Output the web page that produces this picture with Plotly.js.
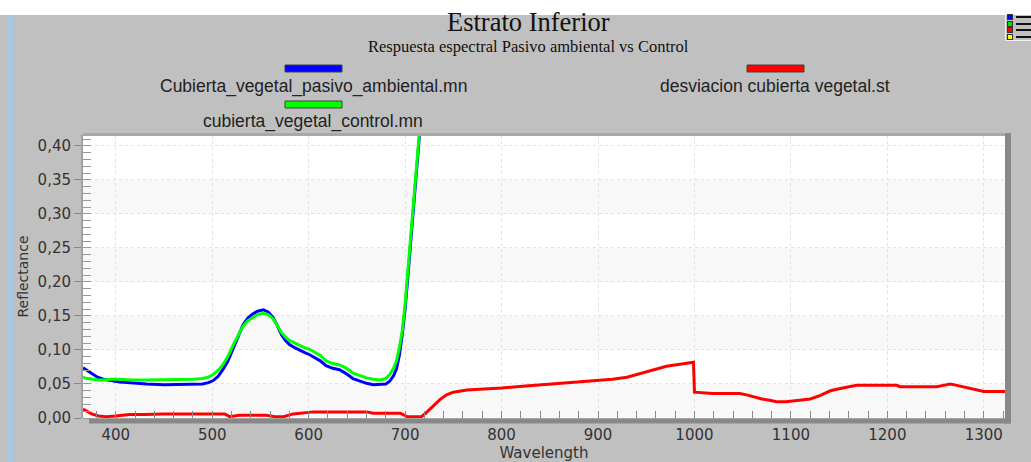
<!DOCTYPE html>
<html>
<head>
<meta charset="utf-8">
<script src="https://cdn.plot.ly/plotly-3.0.1.min.js"></script>
<style>
  html, body { margin: 0; padding: 0; background: #ffffff; width: 1031px; height: 462px; overflow: hidden; }
  #wrap { position: absolute; left: 0; top: 15px; width: 1031px; height: 447px; background: #c0c0c0; }
  #strip { position: absolute; left: 8px; top: 15px; width: 6px; height: 447px; background: #a9c7e8; }
  #chart { position: absolute; left: 0; top: 0; width: 1031px; height: 462px; }
  .tb { position: absolute; }
</style>
</head>
<body>
<div id="wrap"></div>
<div id="strip"></div>
<div id="chart"></div>
<div id="toolbar"></div>
<script>
// ---------------- data ----------------
var wavelength = [366, 370, 376, 381, 387, 395, 404, 415, 432, 450, 466, 480, 490, 496, 501, 506, 511, 516, 522, 527,
  532, 537, 542, 547, 553, 558, 563, 567, 572, 576, 580, 586, 591, 596, 601, 605, 612, 618, 625, 632,
  638, 646, 653, 660, 667, 674, 680, 684, 688, 691, 694, 697, 700, 703, 706, 709, 712, 715, 720, 730];

var pasivoAmbiental = [0.074, 0.070, 0.064, 0.060, 0.057, 0.055, 0.053, 0.052, 0.050, 0.049, 0.049, 0.049, 0.050, 0.052, 0.055, 0.061, 0.071, 0.083, 0.103, 0.121,
  0.137, 0.147, 0.153, 0.157, 0.159, 0.156, 0.148, 0.137, 0.122, 0.114, 0.108, 0.103, 0.099, 0.096, 0.093, 0.090, 0.084, 0.077, 0.073, 0.071,
  0.066, 0.058, 0.054, 0.051, 0.049, 0.049, 0.050, 0.054, 0.062, 0.072, 0.092, 0.122, 0.160, 0.210, 0.265, 0.315, 0.368, 0.418, 0.480, 0.560];

var control = [0.060, 0.058, 0.057, 0.056, 0.056, 0.057, 0.057, 0.056, 0.056, 0.056, 0.056, 0.057, 0.058, 0.060, 0.064, 0.070, 0.078, 0.090, 0.108, 0.122,
  0.135, 0.143, 0.148, 0.152, 0.154, 0.152, 0.146, 0.137, 0.125, 0.119, 0.114, 0.110, 0.106, 0.103, 0.101, 0.098, 0.092, 0.084, 0.080, 0.078,
  0.074, 0.066, 0.062, 0.059, 0.057, 0.056, 0.058, 0.064, 0.073, 0.084, 0.103, 0.128, 0.168, 0.218, 0.272, 0.322, 0.375, 0.424, 0.490, 0.570];

var wavelengthDev = [366, 370, 375, 382, 390, 400, 414, 430, 449, 470, 490, 501, 513, 518, 528, 545, 556, 565, 574, 584,
  595, 605, 620, 640, 660, 667, 680, 695, 702, 710, 717, 722, 729, 736, 743, 750, 764, 780, 800, 825,
  850, 875, 900, 915, 930, 940, 950, 960, 971, 985, 999, 1000, 1010, 1019, 1035, 1047, 1054, 1061, 1070, 1078,
  1085, 1095, 1109, 1120, 1130, 1141, 1150, 1160, 1168, 1180, 1195, 1210, 1213, 1230, 1251, 1258, 1265, 1272, 1279, 1290,
  1300, 1310, 1322];

var desviacion = [0.013, 0.010, 0.006, 0.003, 0.002, 0.003, 0.005, 0.005, 0.006, 0.006, 0.006, 0.006, 0.006, 0.002, 0.004, 0.004, 0.004, 0.002, 0.002, 0.006,
  0.007, 0.009, 0.009, 0.009, 0.009, 0.007, 0.007, 0.007, 0.002, 0.002, 0.002, 0.008, 0.018, 0.027, 0.034, 0.038, 0.041, 0.042, 0.044, 0.047,
  0.050, 0.052, 0.055, 0.057, 0.060, 0.064, 0.068, 0.072, 0.076, 0.079, 0.082, 0.038, 0.037, 0.036, 0.036, 0.036, 0.034, 0.031, 0.028, 0.026,
  0.024, 0.024, 0.026, 0.028, 0.033, 0.040, 0.043, 0.046, 0.048, 0.048, 0.048, 0.048, 0.046, 0.046, 0.046, 0.048, 0.050, 0.048, 0.046, 0.042,
  0.039, 0.039, 0.039];

var seriesNames = ["Cubierta_vegetal_pasivo_ambiental.mn", "cubierta_vegetal_control.mn", "desviacion cubierta vegetal.st"];
var seriesColors = ["#0000ff", "#00ff00", "#ff0000"];
var bandStarts = [0.00, 0.10, 0.20, 0.30];
var bandWidth = 0.05;
var chartTitle = "Estrato Inferior";
var chartSubtitle = "Respuesta espectral Pasivo ambiental vs Control";

// ---------------- geometry helpers (image pixel -> paper) ----------------
var L = 83, R = 1005, T = 135, B = 418;
function px(x) { return (x - L) / (R - L); }
function py(y) { return (B - y) / (B - T); }

// legend layout: [centerX, barTopY, textY]
var legendPos = [[313, 65, 86], [313, 101, 122], [775, 65, 86]];

var traces = [
  { x: wavelengthDev, y: desviacion, name: seriesNames[2], mode: "lines", line: { color: seriesColors[2], width: 3 } },
  { x: wavelength, y: pasivoAmbiental, name: seriesNames[0], mode: "lines", line: { color: seriesColors[0], width: 3 } },
  { x: wavelength, y: control, name: seriesNames[1], mode: "lines", line: { color: seriesColors[1], width: 3 } }
];

var shapes = [];
bandStarts.forEach(function (b) {
  shapes.push({ type: "rect", xref: "paper", yref: "y", x0: 0, x1: 1, y0: b, y1: b + bandWidth,
    fillcolor: "#f8f8f8", line: { width: 0 }, layer: "below" });
});
// borders
shapes.push({ type: "line", xref: "paper", yref: "paper", x0: px(83), x1: px(1008), y0: py(134.5), y1: py(134.5),
  line: { color: "#a8a8a8", width: 3 } });
shapes.push({ type: "rect", xref: "paper", yref: "paper", x0: px(89), x1: px(1011), y0: py(418.5), y1: py(423.5),
  fillcolor: "#888888", line: { width: 0 } });
shapes.push({ type: "rect", xref: "paper", yref: "paper", x0: px(1005), x1: px(1011), y0: py(133), y1: py(423.5),
  fillcolor: "#888888", line: { width: 0 } });

var annotations = [
  { text: chartTitle, xref: "paper", yref: "paper", x: px(528), y: py(22), showarrow: false,
    xanchor: "center", yanchor: "middle", font: { family: "Liberation Serif, Times New Roman, serif", size: 26.5, color: "#111" } },
  { text: chartSubtitle, xref: "paper", yref: "paper", x: px(528), y: py(46), showarrow: false,
    xanchor: "center", yanchor: "middle", font: { family: "Liberation Serif, Times New Roman, serif", size: 16.5, color: "#111" } }
];

[0, 1, 2].forEach(function (i) {
  var p = legendPos[i];
  shapes.push({ type: "rect", xref: "paper", yref: "paper", x0: px(p[0] - 28), x1: px(p[0] + 29), y0: py(p[1] + 7), y1: py(p[1]),
    fillcolor: seriesColors[i], line: { color: "#404040", width: 1 } });
  annotations.push({ text: seriesNames[i], xref: "paper", yref: "paper", x: px(p[0]), y: py(p[2]), showarrow: false,
    xanchor: "center", yanchor: "middle", font: { family: "Liberation Sans, Arial, sans-serif", size: 17.5, color: "#222" } });
});

var layout = {
  width: 1031, height: 462,
  margin: { l: 83, r: 26, t: 135, b: 44, pad: 0 },
  paper_bgcolor: "rgba(0,0,0,0)",
  plot_bgcolor: "#ffffff",
  showlegend: false,
  separators: ",.",
  font: { family: "DejaVu Sans, sans-serif", size: 15, color: "#333" },
  xaxis: {
    range: [366, 1322], tick0: 0, dtick: 100,
    ticks: "inside", ticklen: 7, tickcolor: "#888", tickwidth: 1,
    minor: { dtick: 20, ticks: "inside", ticklen: 7, tickcolor: "#888", showgrid: false },
    showgrid: true, gridcolor: "#e2e2e2", griddash: "dot", gridwidth: 1,
    showline: false, zeroline: false,
    ticklabelstandoff: 6,
    tickfont: { family: "DejaVu Sans, sans-serif", size: 15, color: "#333" },
    title: { text: "Wavelength", standoff: 2, font: { family: "DejaVu Sans, sans-serif", size: 15, color: "#333" } },
    automargin: false
  },
  yaxis: {
    range: [0, 0.416], tick0: 0, dtick: 0.05, tickformat: ".2f",
    ticks: "outside", ticklen: 7, tickcolor: "#888", tickwidth: 1,
    minor: { dtick: 0.01, ticks: "inside", ticklen: 8, tickcolor: "#999", showgrid: false },
    showgrid: true, gridcolor: "#e2e2e2", griddash: "dot", gridwidth: 1,
    showline: true, linecolor: "#a0a0a0", linewidth: 2, zeroline: false,
    tickfont: { family: "DejaVu Sans, sans-serif", size: 15, color: "#333" },
    title: { text: "Reflectance", standoff: 6, font: { family: "DejaVu Sans, sans-serif", size: 14, color: "#333" } },
    automargin: false
  },
  shapes: shapes,
  annotations: annotations
};

Plotly.newPlot("chart", traces, layout, { displayModeBar: false, staticPlot: true });

// toolbar icon (top right)
var tbColors = ["#0000ff", "#00e000", "#ff0000", "#ffff00"];
var tb = document.getElementById("toolbar");
tbColors.forEach(function (c, i) {
  var sq = document.createElement("div");
  sq.className = "tb";
  sq.style.cssText = "left:1007px;top:" + (14 + i * 6.7) + "px;width:4px;height:4px;background:" + c + ";border:1px solid #333;";
  tb.appendChild(sq);
  var ln = document.createElement("div");
  ln.className = "tb";
  ln.style.cssText = "left:1016px;top:" + (16 + i * 6.7) + "px;width:15px;height:2px;background:#111;";
  tb.appendChild(ln);
});
var edge = document.createElement("div");
edge.className = "tb";
edge.style.cssText = "left:1005px;top:10px;width:26px;height:30px;border-left:1px solid #eee;border-bottom:1px solid #eee;";
tb.appendChild(edge);
</script>
</body>
</html>
